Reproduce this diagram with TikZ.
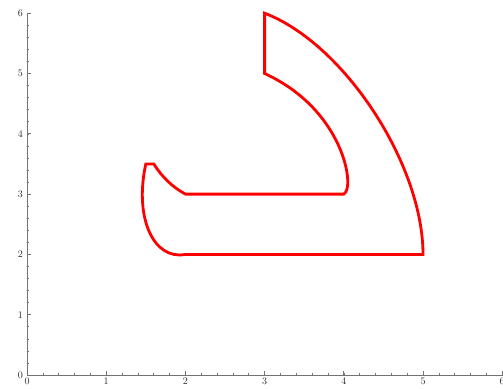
\documentclass[tikz,border=0pt]{standalone}
\usepackage{tikz}

\begin{document}
\begin{tikzpicture}[
        x=79.2pt, y=60.3pt,
        font=\fontsize{10}{10}\selectfont,
        axis/.style={draw=black!55, line width=0.9pt},
        major/.style={draw=black!55, line width=0.8pt},
        minor/.style={draw=black!55, line width=0.6pt},
        ticklabel/.style={inner sep=1pt, text=black!85},
        outline/.style={draw=red, line width=2.8pt, line join=miter}
    ]

    \useasboundingbox (-0.341,-0.2156) rectangle (6.010,6.219);

    % axes
    \draw [axis] (0,0) -- (6.02,0);
    \draw [axis] (0,0) -- (0,6);

    % minor ticks
    \foreach \t in {0.2,0.4,...,5.9} {
        \draw [minor] (\t,0) -- ++(0,2pt);
        \draw [minor] (0,\t) -- ++(2pt,0);
    }

    % major ticks and labels
    \foreach \t in {0,...,6} {
        \draw [major] (\t,0) -- ++(0,4pt);
        \draw [major] (0,\t) -- ++(4pt,0);
        \node (xl\t) [ticklabel, anchor=north] at (\t,-2pt) {\t};
        \node (yl\t) [ticklabel, anchor=east] at (-3pt,\t) {\t};
    }

    % the curve
    \draw [outline] (3,6) -- (3,5)
        .. controls (4,4.4) and (4.15,3.1) .. (4,3)
        -- (2,3)
        .. controls (1.84,3.113) and (1.707,3.28) .. (1.6,3.5)
        -- (1.5,3.5)
        .. controls (1.35,2.6) and (1.6,1.9) .. (2,2)
        -- (5,2)
        .. controls (5,3.5) and (4,5.5) .. (3,6)
        -- cycle;

\end{tikzpicture}
\end{document}
